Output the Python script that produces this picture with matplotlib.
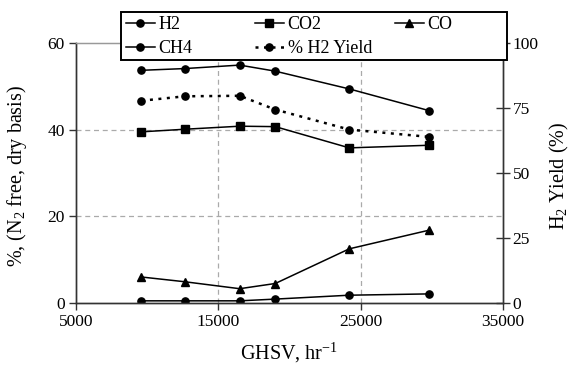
import numpy as np
import matplotlib
matplotlib.use("Agg")
import matplotlib.pyplot as plt
from matplotlib.patches import Rectangle

plt.rcParams["font.family"] = ["Liberation Serif", "DejaVu Serif"]
plt.rcParams["mathtext.fontset"] = "custom"
plt.rcParams["mathtext.rm"] = "Liberation Serif"
plt.rcParams["mathtext.it"] = "Liberation Serif:italic"

# space velocity (hr^-1)
ghsv = [9600, 12650, 16500, 19000, 24200, 29800]

# dry, N2-free product composition (%)
h2 = [53.7, 54.1, 54.9, 53.5, 49.4, 44.4]
co2 = [39.5, 40.1, 40.8, 40.7, 35.8, 36.4]
co = [6.0, 4.9, 3.3, 4.5, 12.5, 16.8]
ch4 = [0.5, 0.5, 0.5, 0.9, 1.8, 2.1]

# hydrogen yield (%), right axis
h2_yield = [77.8, 79.5, 79.7, 74.4, 66.7, 63.9]

W, H = 570, 367
fig = plt.figure(figsize=(W / 100, H / 100), dpi=100)
ax = fig.add_axes([76 / W, 1 - 303 / H, 427 / W, 260 / H])
ax2 = ax.twinx()

ln_h2, = ax.plot(ghsv, h2, "-", color="black", lw=1.1, marker="o", ms=5.2)
ln_co2, = ax.plot(ghsv, co2, "-", color="black", lw=1.1, marker="s", ms=5.2)
ln_co, = ax.plot(ghsv, co, "-", color="black", lw=1.1, marker="^", ms=5.5)
ln_ch4, = ax.plot(ghsv, ch4, "-", color="black", lw=1.1, marker="o", ms=5.2)
ln_y, = ax2.plot(ghsv, h2_yield, color="black", lw=1.8, ls=(0, (1.2, 2.2)),
                 marker="o", ms=5.2)

ax.set_xlim(5000, 35000)
ax.set_ylim(0, 60)
ax2.set_ylim(0, 100)
ax.set_xticks([5000, 15000, 25000, 35000])
ax.set_yticks([0, 20, 40, 60])
ax2.set_yticks([0, 25, 50, 75, 100])

# dashed reference grid on interior positions only
for yv in (20, 40):
    ax.axhline(yv, color="#aaaaaa", lw=0.9, ls=(0, (4, 3)), zorder=0)
for xv in (15000, 25000):
    ax.axvline(xv, color="#aaaaaa", lw=0.9, ls=(0, (4, 3)), zorder=0)

for a in (ax, ax2):
    for s in ("left", "right", "bottom"):
        a.spines[s].set_color("#333333")
        a.spines[s].set_linewidth(1.0)
    a.spines["top"].set_color("#999999")
    a.spines["top"].set_linewidth(0.9)

ax.tick_params(axis="both", labelsize=12.5, color="#333333", width=1.0,
               length=5, direction="out", pad=3)
ax2.tick_params(axis="y", labelsize=12.5, color="#333333", width=1.0,
                length=10, direction="inout", pad=2)

ax.set_xlabel(r"GHSV, hr$^{-1}$", fontsize=14.5)
ax.xaxis.set_label_coords(0.5, -0.145)
ax.set_ylabel(r"%, (N$_2$ free, dry basis)", fontsize=14.5)
ax.yaxis.set_label_coords(-0.11, 0.49)
ax2.set_ylabel(r"H$_2$ Yield (%)", fontsize=14.5)
ax2.yaxis.set_label_coords(1.105, 0.49)

# legend: boxed panel across the top, three columns laid out row-wise
box = Rectangle((121 / W, 1 - 60 / H), 386 / W, 48 / H,
                transform=fig.transFigure, facecolor="white",
                edgecolor="black", lw=1.4, zorder=4)
fig.patches.append(box)

columns = [([ln_h2, ln_ch4], ["H2", "CH4"], 126),
           ([ln_co2, ln_y], ["CO2", "% H2 Yield"], 255),
           ([ln_co], ["CO"], 395)]
for hs, ls, x0 in columns:
    fig.legend(hs, ls, loc="upper left",
               bbox_to_anchor=(x0 / W, 1 - 16 / H),
               frameon=False, fontsize=13, borderpad=0, borderaxespad=0,
               handlelength=1.6, handletextpad=0.2, labelspacing=0.4)

fig.savefig("out.png", dpi=100)
